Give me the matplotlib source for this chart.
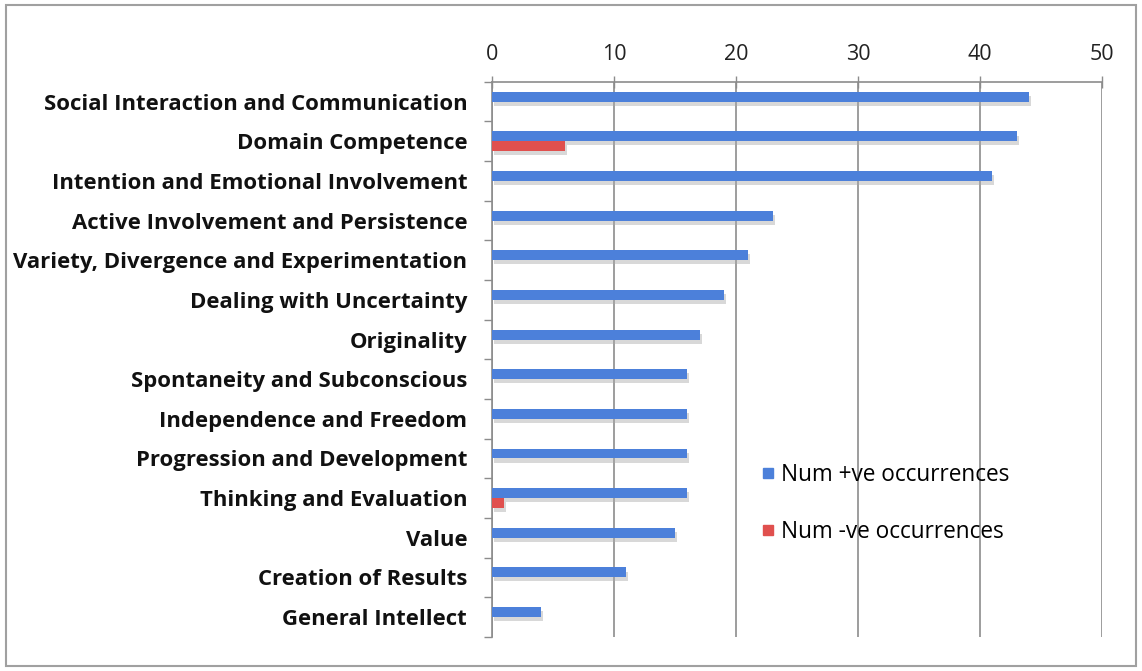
import numpy as np
import matplotlib.pyplot as plt
import matplotlib.patheffects as pe
from matplotlib.patches import Rectangle
from matplotlib.lines import Line2D

# Data
categories = [
    "Social Interaction and Communication",
    "Domain Competence",
    "Intention and Emotional Involvement",
    "Active Involvement and Persistence",
    "Variety, Divergence and Experimentation",
    "Dealing with Uncertainty",
    "Originality",
    "Spontaneity and Subconscious",
    "Independence and Freedom",
    "Progression and Development",
    "Thinking and Evaluation",
    "Value",
    "Creation of Results",
    "General Intellect",
]
positive = [44, 43, 41, 23, 21, 19, 17, 16, 16, 16, 16, 15, 11, 4]
negative = [0, 6, 0, 0, 0, 0, 0, 0, 0, 0, 1, 0, 0, 0]
x_ticks = [0, 10, 20, 30, 40, 50]

blue = '#4C80DA'
red = '#E0504E'
grid_col = '#8C8C8C'

plt.rcParams['font.family'] = ['Open Sans', 'DejaVu Sans']

fig = plt.figure(figsize=(11.42, 6.71), dpi=100)
ax = fig.add_axes([0.431, 0.051, 0.534, 0.827])

y = np.arange(len(categories))
bar_h = 0.25
shadow = [pe.SimplePatchShadow(offset=(1.5, -3), shadow_rgbFace='#AAAAAA', alpha=0.45), pe.Normal()]

ax.barh(y - bar_h / 2, positive, height=bar_h, color=blue, zorder=3,
        path_effects=shadow, label='Num +ve occurrences')
ax.barh(y + bar_h / 2, negative, height=bar_h, color=red, zorder=3,
        path_effects=shadow, label='Num -ve occurrences')

ax.set_xlim(0, 50)
ax.set_ylim(len(categories) - 0.5, -0.5)

# x axis on top, gridlines at each tick
ax.xaxis.tick_top()
ax.set_xticks(x_ticks)
ax.tick_params(axis='x', which='major', direction='inout', length=8, width=1,
               color=grid_col, labelsize=15.5, labelcolor='#222222', pad=8)
ax.grid(axis='x', color=grid_col, linewidth=1.2, zorder=0)
ax.set_axisbelow(True)

# category labels at centers, tick marks at category boundaries
ax.set_yticks(y)
ax.set_yticklabels(categories, fontsize=15.9, fontweight='bold', color='#111111')
ax.tick_params(axis='y', which='major', length=0, pad=18)
ax.set_yticks(np.arange(-0.5, len(categories)), minor=True)
ax.tick_params(axis='y', which='minor', length=6, width=1, color=grid_col, direction='out')

for side in ['right', 'bottom']:
    ax.spines[side].set_visible(False)
for side in ['top', 'left']:
    ax.spines[side].set_color(grid_col)
    ax.spines[side].set_linewidth(1.2)

handles = [
    Line2D([], [], marker='s', linestyle='none', markersize=7, color=blue),
    Line2D([], [], marker='s', linestyle='none', markersize=7, color=red),
]
ax.legend(handles, ['Num +ve occurrences', 'Num -ve occurrences'],
          loc='upper left', bbox_to_anchor=(0.41, 0.35), frameon=False,
          fontsize=16.3, labelspacing=1.45, handlelength=0.5, handletextpad=0.3)

# outer frame
fig.patches.append(Rectangle((0.005, 0.008), 0.99, 0.984, transform=fig.transFigure,
                             fill=False, edgecolor='#A0A0A0', linewidth=1.5))

fig.savefig('out.png', dpi=100)
